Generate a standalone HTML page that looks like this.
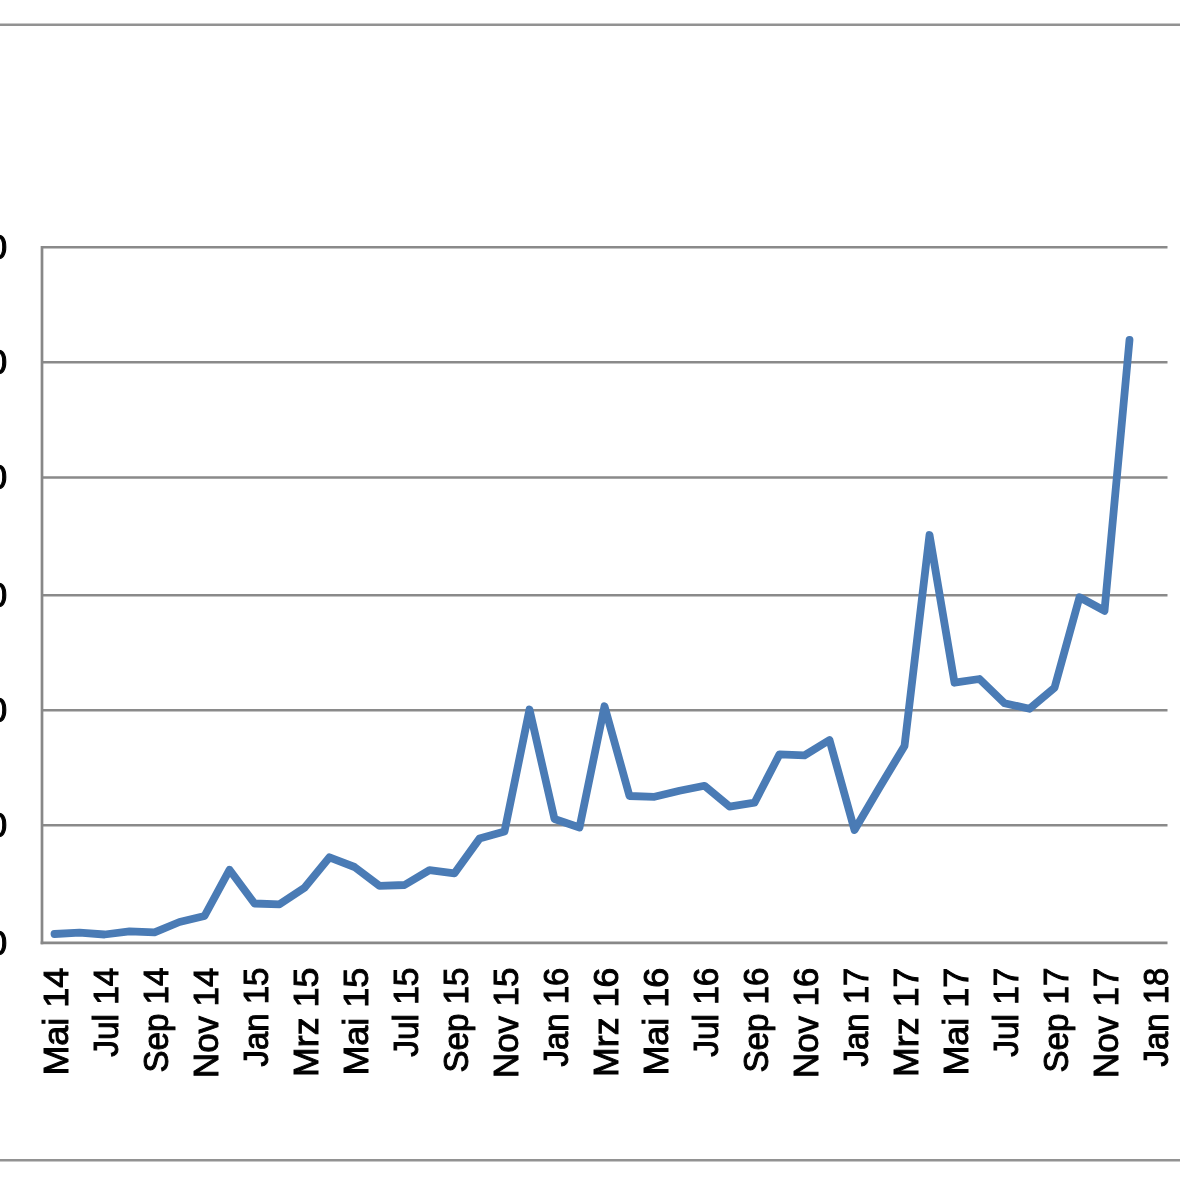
<!DOCTYPE html>
<html><head><meta charset="utf-8"><style>
html,body{margin:0;padding:0;background:#fff;width:1180px;height:1180px;overflow:hidden}
svg{display:block;filter:blur(0.5px)}
.b{stroke:#929292;stroke-width:2.6}
.g{stroke:#8a8a8a;stroke-width:2.5}
.a{stroke:#888;stroke-width:2.7}
.t{font-family:"Liberation Sans",sans-serif;font-size:35px;fill:#000;stroke:#000;stroke-width:1.0}
.s{fill:none;stroke:#4a7bb5;stroke-width:7.8;stroke-linejoin:round;stroke-linecap:round}
</style></head><body>
<svg width="1180" height="1180" viewBox="0 0 1180 1180">
<line x1="0" y1="24.8" x2="1180" y2="24.8" class="b"/>
<line x1="0" y1="1160.3" x2="1180" y2="1160.3" class="b"/>
<line x1="42.0" y1="247.2" x2="1167.5" y2="247.2" class="g"/>
<line x1="42.0" y1="362.3" x2="1167.5" y2="362.3" class="g"/>
<line x1="42.0" y1="477.4" x2="1167.5" y2="477.4" class="g"/>
<line x1="42.0" y1="595.2" x2="1167.5" y2="595.2" class="g"/>
<line x1="42.0" y1="710.3" x2="1167.5" y2="710.3" class="g"/>
<line x1="42.0" y1="825.3" x2="1167.5" y2="825.3" class="g"/>
<line x1="40.65" y1="942.9" x2="1167.5" y2="942.9" class="a"/>
<line x1="42.0" y1="245.95" x2="42.0" y2="944.25" class="a"/>
<text x="7.2" y="258.9" text-anchor="end" class="t">600</text>
<text x="7.2" y="374.0" text-anchor="end" class="t">500</text>
<text x="7.2" y="489.1" text-anchor="end" class="t">400</text>
<text x="7.2" y="606.9" text-anchor="end" class="t">300</text>
<text x="7.2" y="722.0" text-anchor="end" class="t">200</text>
<text x="7.2" y="837.0" text-anchor="end" class="t">100</text>
<text x="7.2" y="954.6" text-anchor="end" class="t">0</text>
<text transform="translate(67.8,967.7) rotate(-90)" text-anchor="end" textLength="107.9" lengthAdjust="spacingAndGlyphs" class="t">Mai 14</text>
<text transform="translate(117.8,967.7) rotate(-90)" text-anchor="end" textLength="89.1" lengthAdjust="spacingAndGlyphs" class="t">Jul 14</text>
<text transform="translate(167.8,967.7) rotate(-90)" text-anchor="end" textLength="104.8" lengthAdjust="spacingAndGlyphs" class="t">Sep 14</text>
<text transform="translate(217.8,967.7) rotate(-90)" text-anchor="end" textLength="110.3" lengthAdjust="spacingAndGlyphs" class="t">Nov 14</text>
<text transform="translate(267.8,967.7) rotate(-90)" text-anchor="end" textLength="98.7" lengthAdjust="spacingAndGlyphs" class="t">Jan 15</text>
<text transform="translate(317.8,967.7) rotate(-90)" text-anchor="end" textLength="109.3" lengthAdjust="spacingAndGlyphs" class="t">Mrz 15</text>
<text transform="translate(367.8,967.7) rotate(-90)" text-anchor="end" textLength="107.9" lengthAdjust="spacingAndGlyphs" class="t">Mai 15</text>
<text transform="translate(417.8,967.7) rotate(-90)" text-anchor="end" textLength="89.1" lengthAdjust="spacingAndGlyphs" class="t">Jul 15</text>
<text transform="translate(467.8,967.7) rotate(-90)" text-anchor="end" textLength="104.8" lengthAdjust="spacingAndGlyphs" class="t">Sep 15</text>
<text transform="translate(517.8,967.7) rotate(-90)" text-anchor="end" textLength="110.3" lengthAdjust="spacingAndGlyphs" class="t">Nov 15</text>
<text transform="translate(567.8,967.7) rotate(-90)" text-anchor="end" textLength="98.7" lengthAdjust="spacingAndGlyphs" class="t">Jan 16</text>
<text transform="translate(617.8,967.7) rotate(-90)" text-anchor="end" textLength="109.3" lengthAdjust="spacingAndGlyphs" class="t">Mrz 16</text>
<text transform="translate(667.8,967.7) rotate(-90)" text-anchor="end" textLength="107.9" lengthAdjust="spacingAndGlyphs" class="t">Mai 16</text>
<text transform="translate(717.8,967.7) rotate(-90)" text-anchor="end" textLength="89.1" lengthAdjust="spacingAndGlyphs" class="t">Jul 16</text>
<text transform="translate(767.8,967.7) rotate(-90)" text-anchor="end" textLength="104.8" lengthAdjust="spacingAndGlyphs" class="t">Sep 16</text>
<text transform="translate(817.8,967.7) rotate(-90)" text-anchor="end" textLength="110.3" lengthAdjust="spacingAndGlyphs" class="t">Nov 16</text>
<text transform="translate(867.8,967.7) rotate(-90)" text-anchor="end" textLength="98.7" lengthAdjust="spacingAndGlyphs" class="t">Jan 17</text>
<text transform="translate(917.8,967.7) rotate(-90)" text-anchor="end" textLength="109.3" lengthAdjust="spacingAndGlyphs" class="t">Mrz 17</text>
<text transform="translate(967.8,967.7) rotate(-90)" text-anchor="end" textLength="107.9" lengthAdjust="spacingAndGlyphs" class="t">Mai 17</text>
<text transform="translate(1017.8,967.7) rotate(-90)" text-anchor="end" textLength="89.1" lengthAdjust="spacingAndGlyphs" class="t">Jul 17</text>
<text transform="translate(1067.8,967.7) rotate(-90)" text-anchor="end" textLength="104.8" lengthAdjust="spacingAndGlyphs" class="t">Sep 17</text>
<text transform="translate(1117.8,967.7) rotate(-90)" text-anchor="end" textLength="110.3" lengthAdjust="spacingAndGlyphs" class="t">Nov 17</text>
<text transform="translate(1167.8,967.7) rotate(-90)" text-anchor="end" textLength="98.7" lengthAdjust="spacingAndGlyphs" class="t">Jan 18</text>
<polyline points="54.5,934 79.5,932.6 104.5,934.5 129.5,931.3 154.5,932.3 179.5,922 204.5,916 229.5,869.8 254.5,903.5 279.5,904.3 304.5,887.8 329.5,857.3 354.5,867 379.5,885.9 404.5,885 429.5,870.1 454.5,873.3 479.5,838.6 504.5,831.5 529.5,709.5 554.5,819 579.5,827.5 604.5,706.2 629.5,796 654.5,796.8 679.5,790.8 704.5,785.8 729.5,806.6 754.5,802.7 779.5,754.4 804.5,755.3 829.5,740 854.5,830 879.5,787.5 904.5,746 929.5,535 954.5,682.7 979.5,679 1004.5,703.2 1029.5,708.8 1054.5,687.7 1079.5,597.3 1104.5,610.8 1129.5,340" class="s"/>
</svg>
</body></html>
